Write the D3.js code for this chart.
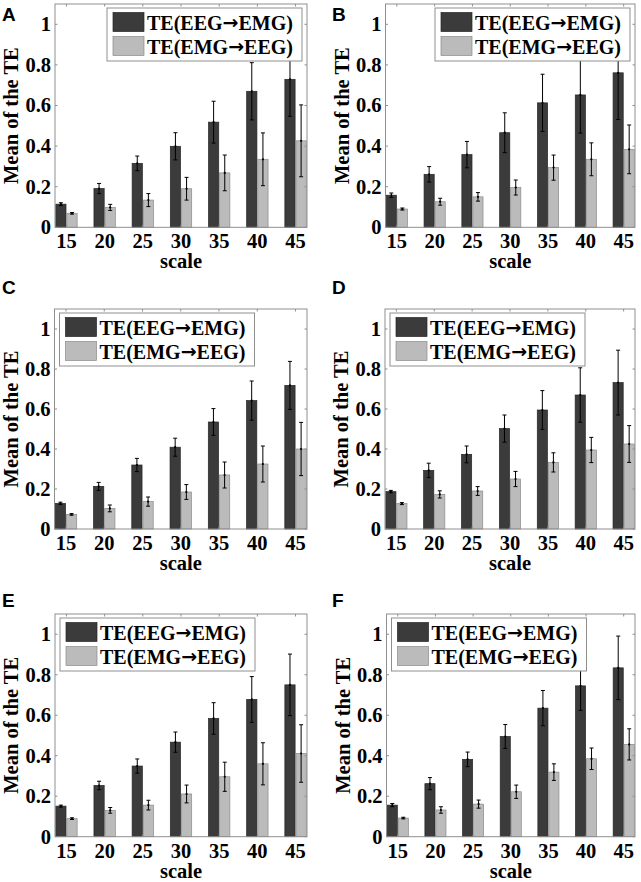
<!DOCTYPE html>
<html>
<head>
<meta charset="utf-8">
<script src="https://cdn.jsdelivr.net/npm/d3@7"></script>
<style>
  html, body { margin: 0; padding: 0; background: #fff; }
  svg { display: block; }
</style>
</head>
<body>
<svg id="chart" width="641" height="882"></svg>
<script>
// ---------------- DATA ----------------
const scales = ["15", "20", "25", "30", "35", "40", "45"];
const seriesNames = ["TE(EEG\u2192EMG)", "TE(EMG\u2192EEG)"];
const panelLabels = ["A", "B", "C", "D", "E", "F"];
const yTicks = [0, 0.2, 0.4, 0.6, 0.8, 1];
const yTickLabels = ["0", "0.2", "0.4", "0.6", "0.8", "1"];

const meanA_eeg2emg = [0.114, 0.191, 0.315, 0.399, 0.518, 0.670, 0.729];
const errA_eeg2emg  = [0.007, 0.025, 0.036, 0.067, 0.103, 0.141, 0.182];
const meanA_emg2eeg = [0.069, 0.098, 0.134, 0.190, 0.268, 0.335, 0.426];
const errA_emg2eeg  = [0.004, 0.015, 0.032, 0.056, 0.088, 0.130, 0.177];

const meanB_eeg2emg = [0.158, 0.261, 0.358, 0.466, 0.613, 0.652, 0.761];
const errB_eeg2emg  = [0.011, 0.038, 0.065, 0.098, 0.141, 0.188, 0.230];
const meanB_emg2eeg = [0.090, 0.126, 0.150, 0.196, 0.294, 0.335, 0.384];
const errB_emg2eeg  = [0.005, 0.017, 0.021, 0.037, 0.062, 0.081, 0.120];

const meanC_eeg2emg = [0.128, 0.213, 0.320, 0.409, 0.535, 0.642, 0.718];
const errC_eeg2emg  = [0.006, 0.020, 0.033, 0.045, 0.067, 0.098, 0.120];
const meanC_emg2eeg = [0.073, 0.103, 0.137, 0.185, 0.270, 0.325, 0.400];
const errC_emg2eeg  = [0.004, 0.017, 0.023, 0.037, 0.065, 0.090, 0.133];

const meanD_eeg2emg = [0.187, 0.293, 0.373, 0.502, 0.595, 0.670, 0.732];
const errD_eeg2emg  = [0.006, 0.036, 0.042, 0.068, 0.097, 0.136, 0.162];
const meanD_emg2eeg = [0.127, 0.173, 0.190, 0.250, 0.333, 0.395, 0.425];
const errD_emg2eeg  = [0.005, 0.018, 0.022, 0.038, 0.048, 0.063, 0.092];

const meanE_eeg2emg = [0.151, 0.253, 0.349, 0.467, 0.584, 0.678, 0.750];
const errE_eeg2emg  = [0.005, 0.021, 0.035, 0.050, 0.078, 0.113, 0.152];
const meanE_emg2eeg = [0.089, 0.130, 0.156, 0.211, 0.296, 0.360, 0.411];
const errE_emg2eeg  = [0.004, 0.014, 0.024, 0.044, 0.072, 0.104, 0.142];

const meanF_eeg2emg = [0.156, 0.262, 0.382, 0.495, 0.635, 0.745, 0.834];
const errF_eeg2emg  = [0.008, 0.030, 0.036, 0.059, 0.087, 0.121, 0.157];
const meanF_emg2eeg = [0.092, 0.132, 0.161, 0.222, 0.319, 0.385, 0.456];
const errF_emg2eeg  = [0.004, 0.016, 0.020, 0.033, 0.041, 0.053, 0.077];

// ---------------- LAYOUT ----------------
const panels = [
  { label: "A", m: [meanA_eeg2emg, meanA_emg2eeg], e: [errA_eeg2emg, errA_emg2eeg],
    box: { l: 55, r: 307, t: 4, b: 227.3 }, lab: { x: 2, y: 21 }, legend: "right" },
  { label: "B", m: [meanB_eeg2emg, meanB_emg2eeg], e: [errB_eeg2emg, errB_emg2eeg],
    box: { l: 385.5, r: 635, t: 4, b: 227.3 }, lab: { x: 332, y: 21 }, legend: "right" },
  { label: "C", m: [meanC_eeg2emg, meanC_emg2eeg], e: [errC_eeg2emg, errC_emg2eeg],
    box: { l: 54.5, r: 307, t: 309, b: 529 }, lab: { x: 2, y: 294 }, legend: "left" },
  { label: "D", m: [meanD_eeg2emg, meanD_emg2eeg], e: [errD_eeg2emg, errD_emg2eeg],
    box: { l: 385, r: 635, t: 309, b: 529 }, lab: { x: 332, y: 294 }, legend: "left" },
  { label: "E", m: [meanE_eeg2emg, meanE_emg2eeg], e: [errE_eeg2emg, errE_emg2eeg],
    box: { l: 55, r: 307, t: 614, b: 836.7 }, lab: { x: 2, y: 607 }, legend: "left" },
  { label: "F", m: [meanF_eeg2emg, meanF_emg2eeg], e: [errF_eeg2emg, errF_emg2eeg],
    box: { l: 386.5, r: 635, t: 614, b: 836.7 }, lab: { x: 332, y: 607 }, legend: "left" }
];

const fills = ["#3b3b3b", "#bbbbbb"];
const edges = ["#262626", "#8a8a8a"];
const axisColor = "#8f8f8f";
const serif = "'Liberation Serif', 'Times New Roman', serif";
const sans = "'Liberation Sans', Arial, sans-serif";

const svg = d3.select("#chart");
svg.append("rect").attr("width", 641).attr("height", 882).attr("fill", "#fff");

panels.forEach(p => {
  const B = p.box;
  const g = svg.append("g");

  const x0 = d3.scaleBand().domain(scales).range([B.l, B.r])
    .paddingInner(0.44).paddingOuter(0.02);
  const x1 = d3.scaleBand().domain([0, 1]).range([0, x0.bandwidth()]).paddingInner(0.08);
  const y = d3.scaleLinear().domain([0, 1.1]).range([B.b, B.t]);

  // bars
  [0, 1].forEach(s => {
    g.append("g").selectAll("rect").data(scales).join("rect")
      .attr("x", d => x0(d) + x1(s))
      .attr("y", (d, i) => y(p.m[s][i]))
      .attr("width", x1.bandwidth())
      .attr("height", (d, i) => y(0) - y(p.m[s][i]))
      .attr("fill", fills[s])
      .attr("stroke", edges[s])
      .attr("stroke-width", 0.7);
  });

  // error bars
  [0, 1].forEach(s => {
    const eg = g.append("g").attr("stroke", "#000").attr("stroke-width", 1).attr("fill", "none");
    scales.forEach((d, i) => {
      const cx = x0(d) + x1(s) + x1.bandwidth() / 2;
      const lo = y(p.m[s][i] - p.e[s][i]);
      const hi = y(Math.min(p.m[s][i] + p.e[s][i], 1.1));
      const cap = 2;
      eg.append("line").attr("x1", cx).attr("x2", cx).attr("y1", lo).attr("y2", hi);
      eg.append("line").attr("x1", cx - cap).attr("x2", cx + cap).attr("y1", lo).attr("y2", lo);
      if (p.m[s][i] + p.e[s][i] <= 1.1)
        eg.append("line").attr("x1", cx - cap).attr("x2", cx + cap).attr("y1", hi).attr("y2", hi);
      eg.append("circle").attr("cx", cx).attr("cy", y(p.m[s][i])).attr("r", 1.1)
        .attr("fill", "#000").attr("stroke", "none");
    });
  });

  // axes box + ticks (inward, on all four sides)
  const ax = g.append("g").attr("stroke", axisColor).attr("stroke-width", 1).attr("fill", "none");
  ax.append("rect").attr("x", B.l).attr("y", B.t).attr("width", B.r - B.l).attr("height", B.b - B.t);
  const tl = 2.5;
  scales.forEach(d => {
    const cx = x0(d) + x0.bandwidth() / 2;
    ax.append("line").attr("x1", cx).attr("x2", cx).attr("y1", B.b).attr("y2", B.b - tl);
    ax.append("line").attr("x1", cx).attr("x2", cx).attr("y1", B.t).attr("y2", B.t + tl);
  });
  yTicks.forEach(v => {
    ax.append("line").attr("x1", B.l).attr("x2", B.l + tl).attr("y1", y(v)).attr("y2", y(v));
    ax.append("line").attr("x1", B.r).attr("x2", B.r - tl).attr("y1", y(v)).attr("y2", y(v));
  });

  // tick labels
  g.append("g").selectAll("text").data(scales).join("text")
    .attr("x", d => x0(d) + x0.bandwidth() / 2)
    .attr("y", B.b + 21)
    .attr("text-anchor", "middle")
    .attr("font-family", serif).attr("font-weight", "bold").attr("font-size", 20.5)
    .attr("fill", "#000")
    .text(d => d);
  g.append("g").selectAll("text").data(yTicks).join("text")
    .attr("x", B.l - 4)
    .attr("y", v => y(v))
    .attr("dy", "0.34em")
    .attr("text-anchor", "end")
    .attr("font-family", serif).attr("font-weight", "bold").attr("font-size", 20.5)
    .attr("fill", "#000")
    .text((v, i) => yTickLabels[i]);

  // axis titles
  g.append("text")
    .attr("x", (B.l + B.r) / 2).attr("y", B.b + 41)
    .attr("text-anchor", "middle")
    .attr("font-family", serif).attr("font-weight", "bold").attr("font-size", 20.5)
    .text("scale");
  g.append("text")
    .attr("transform", `translate(${B.l - 37},${(B.t + B.b) / 2}) rotate(-90)`)
    .attr("text-anchor", "middle")
    .attr("font-family", serif).attr("font-weight", "bold").attr("font-size", 20.5)
    .text("Mean of the TE");

  // legend
  const lw = 195, lh = 53;
  const lx = p.legend === "right" ? B.r - 5 - lw : B.l + 5;
  const ly = B.t + 4;
  const lg = g.append("g").attr("transform", `translate(${lx},${ly})`);
  lg.append("rect").attr("width", lw).attr("height", lh)
    .attr("fill", "#fff").attr("stroke", axisColor).attr("stroke-width", 1);
  seriesNames.forEach((name, s) => {
    lg.append("rect").attr("x", 6).attr("y", 4.5 + s * 24).attr("width", 31).attr("height", 19)
      .attr("fill", fills[s]).attr("stroke", edges[s]).attr("stroke-width", 0.7);
    const parts = name.split("\u2192");
    const t = lg.append("text").attr("x", 40).attr("y", 21.5 + s * 24)
      .attr("font-family", serif).attr("font-weight", "bold").attr("font-size", 20)
      .attr("fill", "#000");
    t.append("tspan").text(parts[0]);
    t.append("tspan").attr("font-family", "'DejaVu Sans', sans-serif").attr("font-size", 19)
      .attr("dy", -1).text("\u2192");
    t.append("tspan").attr("dy", 1).text(parts[1]);
  });

  // panel label
  svg.append("text").attr("x", p.lab.x).attr("y", p.lab.y)
    .attr("font-family", sans).attr("font-weight", "bold").attr("font-size", 19)
    .attr("fill", "#000")
    .text(p.label);
});
</script>
</body>
</html>
